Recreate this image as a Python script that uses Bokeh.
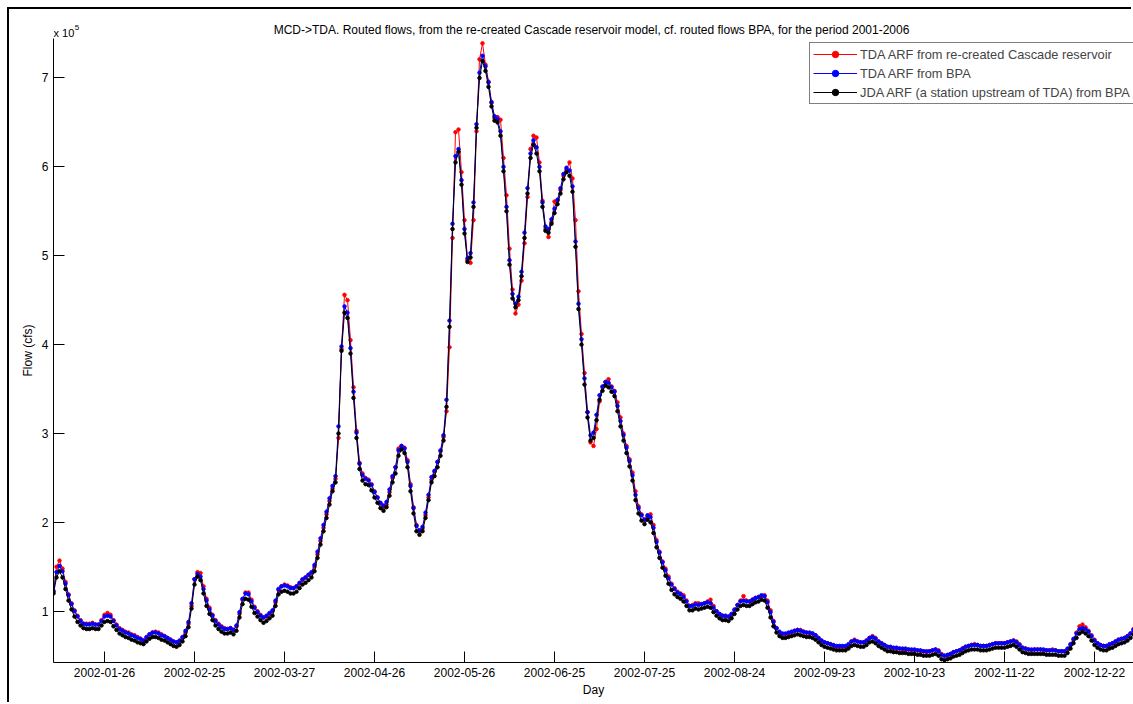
from datetime import date
from bokeh.plotting import figure
from bokeh.models import Range1d, FixedTicker, Legend, LegendItem, Label, Title
from bokeh.embed import file_html
from bokeh.resources import INLINE

# ---------------- data (flows in units of 1e5 cfs, daily from 2002-01-09) ----------------
start_date = date(2002, 1, 9)

tick_labels = ["2002-01-26", "2002-02-25", "2002-03-27", "2002-04-26", "2002-05-26",
               "2002-06-25", "2002-07-25", "2002-08-24", "2002-09-23", "2002-10-23",
               "2002-11-22", "2002-12-22"]
y_ticks = [1, 2, 3, 4, 5, 6, 7]
y_tick_labels = ["1", "2", "3", "4", "5", "6", "7"]

title_text = ("MCD->TDA. Routed flows, from the re-created Cascade reservoir model, "
              "cf. routed flows BPA, for the period 2001-2006")

series_names = ["TDA ARF from re-created Cascade reservoir",
                "TDA ARF from BPA",
                "JDA ARF (a station upstream of TDA) from BPA"]

tda_recreated = [
    1.23, 1.50, 1.57, 1.48, 1.33, 1.19, 1.09, 1.01, 0.95, 0.90,
    0.86, 0.86, 0.86, 0.87, 0.85, 0.85, 0.90, 0.96, 0.98, 0.96,
    0.90, 0.85, 0.81, 0.79, 0.77, 0.76, 0.74, 0.73, 0.71, 0.69,
    0.67, 0.70, 0.74, 0.76, 0.77, 0.76, 0.74, 0.72, 0.70, 0.68,
    0.66, 0.65, 0.66, 0.70, 0.76, 0.86, 1.06, 1.36, 1.44, 1.43,
    1.28, 1.14, 1.04, 0.96, 0.90, 0.86, 0.83, 0.81, 0.80, 0.81,
    0.79, 0.83, 0.97, 1.13, 1.21, 1.21, 1.13, 1.05, 1.00, 0.96,
    0.93, 0.94, 0.97, 1.00, 1.10, 1.24, 1.28, 1.30, 1.29, 1.27,
    1.26, 1.28, 1.31, 1.35, 1.38, 1.41,
    1.43, 1.50, 1.64, 1.79, 1.94, 2.09, 2.24, 2.38, 2.49, 2.95,
    3.95, 4.56, 4.50, 4.05, 3.52, 3.03, 2.67, 2.55, 2.50, 2.48,
    2.43, 2.35, 2.28, 2.21, 2.17, 2.20, 2.34, 2.50, 2.62, 2.83,
    2.86, 2.84, 2.70, 2.43, 2.17, 1.97, 1.90, 1.93, 2.08, 2.28,
    2.48, 2.57, 2.68, 2.80, 2.96, 3.25, 3.97, 5.20, 6.39, 6.42,
    5.94, 5.40, 4.95, 4.92, 5.40, 6.40, 7.21, 7.39, 7.15, 6.96,
    6.72, 6.55, 6.56, 6.53, 6.10, 5.68, 5.08, 4.62, 4.35, 4.45,
    4.72, 5.14, 5.66, 6.20, 6.35, 6.33, 6.05, 5.62, 5.30, 5.21,
    5.38, 5.61, 5.62, 5.74, 5.90, 5.97, 6.05, 5.87, 5.40, 4.60,
    4.12, 3.68, 3.24, 2.90, 2.86, 3.05, 3.36, 3.52, 3.58, 3.61,
    3.53, 3.48, 3.35, 3.18, 3.00, 2.86, 2.71, 2.56, 2.35, 2.18,
    2.09, 2.03, 2.06, 2.09, 1.97, 1.80, 1.67, 1.56, 1.48, 1.39,
    1.31, 1.26, 1.22, 1.20, 1.18, 1.12, 1.06, 1.07, 1.09, 1.09,
    1.08, 1.09, 1.11, 1.13, 1.06, 1.00, 0.97, 0.95, 0.94, 0.94,
    0.96, 1.01, 1.07, 1.12, 1.17, 1.12, 1.11, 1.13, 1.15, 1.16,
    1.17, 1.18, 1.12, 1.01, 0.89, 0.81, 0.76, 0.74, 0.74, 0.75,
    0.76, 0.78, 0.79, 0.79, 0.77, 0.76, 0.75, 0.75, 0.73, 0.70,
    0.67, 0.65, 0.64, 0.63, 0.61, 0.60, 0.60, 0.60, 0.60, 0.62,
    0.66, 0.68, 0.66, 0.65, 0.65, 0.67, 0.70, 0.72, 0.70, 0.66,
    0.64, 0.62, 0.60, 0.59, 0.58, 0.58, 0.58, 0.57, 0.57, 0.57,
    0.56, 0.56, 0.56, 0.55, 0.55, 0.54, 0.55, 0.56, 0.57, 0.56,
    0.52, 0.50, 0.50, 0.52, 0.54, 0.55, 0.56, 0.58, 0.60, 0.61,
    0.62, 0.63, 0.62, 0.61, 0.61, 0.61, 0.62, 0.63, 0.64, 0.64,
    0.64, 0.64, 0.65, 0.66, 0.67, 0.66, 0.63, 0.59, 0.58, 0.57,
    0.56, 0.57, 0.57, 0.57, 0.56, 0.56, 0.56, 0.57, 0.56, 0.55,
    0.55, 0.55, 0.57, 0.62, 0.68, 0.76, 0.83, 0.85, 0.82, 0.78,
    0.73, 0.68, 0.64, 0.62, 0.61, 0.61, 0.62, 0.64, 0.66, 0.68,
    0.69, 0.70, 0.72, 0.75, 0.80, 0.84,
]

tda_bpa = [
    1.22, 1.44, 1.51, 1.45, 1.31, 1.18, 1.08, 1.00, 0.94, 0.89,
    0.86, 0.85, 0.85, 0.86, 0.85, 0.85, 0.89, 0.94, 0.95, 0.94,
    0.89, 0.84, 0.80, 0.78, 0.76, 0.75, 0.73, 0.72, 0.70, 0.69,
    0.67, 0.71, 0.74, 0.76, 0.76, 0.75, 0.73, 0.72, 0.70, 0.68,
    0.66, 0.65, 0.67, 0.71, 0.78, 0.88, 1.09, 1.36, 1.42, 1.39,
    1.25, 1.12, 1.02, 0.95, 0.89, 0.85, 0.82, 0.80, 0.80, 0.81,
    0.79, 0.84, 0.99, 1.14, 1.20, 1.19, 1.11, 1.04, 0.99, 0.95,
    0.93, 0.95, 0.98, 1.01, 1.12, 1.25, 1.28, 1.29, 1.28, 1.26,
    1.26, 1.28, 1.32, 1.36, 1.38, 1.41,
    1.44, 1.52, 1.67, 1.82, 1.97, 2.12, 2.27, 2.41, 2.52, 3.08,
    3.98, 4.43, 4.36, 3.96, 3.47, 3.01, 2.66, 2.53, 2.49, 2.47,
    2.42, 2.34, 2.28, 2.22, 2.19, 2.23, 2.37, 2.52, 2.62, 2.81,
    2.86, 2.83, 2.68, 2.41, 2.16, 1.96, 1.91, 1.95, 2.11, 2.31,
    2.51, 2.58, 2.68, 2.81, 2.98, 3.38, 4.27, 5.36, 6.12, 6.20,
    5.85, 5.30, 4.97, 5.03, 5.60, 6.48, 7.06, 7.25, 7.13, 6.95,
    6.73, 6.57, 6.54, 6.40, 6.00, 5.55, 4.95, 4.57, 4.46, 4.54,
    4.82, 5.26, 5.76, 6.15, 6.30, 6.22, 6.00, 5.60, 5.33, 5.30,
    5.41, 5.53, 5.63, 5.76, 5.92, 5.99, 5.96, 5.78, 5.16, 4.46,
    4.06, 3.62, 3.24, 2.98, 3.01, 3.21, 3.43, 3.53, 3.58, 3.57,
    3.52, 3.47, 3.31, 3.14, 2.98, 2.84, 2.69, 2.53, 2.31, 2.16,
    2.08, 2.03, 2.08, 2.06, 1.94, 1.78, 1.66, 1.55, 1.46, 1.37,
    1.30, 1.25, 1.21, 1.19, 1.16, 1.11, 1.06, 1.06, 1.08, 1.07,
    1.08, 1.09, 1.10, 1.09, 1.04, 1.00, 0.97, 0.95, 0.95, 0.94,
    0.97, 1.02, 1.07, 1.11, 1.12, 1.11, 1.11, 1.13, 1.15, 1.16,
    1.18, 1.17, 1.10, 0.99, 0.88, 0.81, 0.77, 0.75, 0.75, 0.76,
    0.77, 0.78, 0.79, 0.78, 0.77, 0.76, 0.76, 0.75, 0.73, 0.70,
    0.67, 0.65, 0.64, 0.63, 0.62, 0.61, 0.61, 0.61, 0.61, 0.63,
    0.66, 0.67, 0.66, 0.65, 0.65, 0.67, 0.70, 0.71, 0.69, 0.66,
    0.64, 0.62, 0.60, 0.60, 0.59, 0.59, 0.58, 0.58, 0.58, 0.57,
    0.57, 0.57, 0.56, 0.56, 0.55, 0.55, 0.55, 0.56, 0.57, 0.55,
    0.51, 0.50, 0.51, 0.52, 0.54, 0.55, 0.56, 0.58, 0.60, 0.61,
    0.62, 0.62, 0.62, 0.61, 0.61, 0.61, 0.62, 0.63, 0.64, 0.64,
    0.64, 0.64, 0.65, 0.66, 0.67, 0.65, 0.62, 0.59, 0.58, 0.57,
    0.57, 0.57, 0.57, 0.57, 0.57, 0.56, 0.56, 0.56, 0.56, 0.55,
    0.55, 0.55, 0.58, 0.63, 0.69, 0.75, 0.80, 0.81, 0.80, 0.77,
    0.72, 0.67, 0.64, 0.62, 0.61, 0.61, 0.63, 0.64, 0.66, 0.68,
    0.69, 0.70, 0.72, 0.75, 0.79, 0.83,
]

jda_bpa = [
    1.20, 1.38, 1.45, 1.38, 1.25, 1.12, 1.02, 0.94, 0.88, 0.84,
    0.81, 0.80, 0.80, 0.81, 0.80, 0.80, 0.84, 0.88, 0.89, 0.88,
    0.83, 0.79, 0.75, 0.73, 0.71, 0.70, 0.68, 0.67, 0.65, 0.64,
    0.63, 0.66, 0.69, 0.71, 0.71, 0.70, 0.68, 0.67, 0.65, 0.63,
    0.61, 0.60, 0.62, 0.66, 0.72, 0.82, 1.03, 1.30, 1.39, 1.35,
    1.20, 1.06, 0.97, 0.90, 0.84, 0.80, 0.77, 0.75, 0.75, 0.76,
    0.74, 0.78, 0.93, 1.08, 1.14, 1.13, 1.05, 0.98, 0.94, 0.90,
    0.87, 0.89, 0.92, 0.95, 1.06, 1.19, 1.22, 1.23, 1.22, 1.20,
    1.20, 1.22, 1.26, 1.30, 1.32, 1.35,
    1.38, 1.45, 1.60, 1.75, 1.90, 2.05, 2.20, 2.35, 2.45, 3.00,
    3.93, 4.36, 4.30, 3.90, 3.40, 2.95, 2.60, 2.47, 2.43, 2.42,
    2.36, 2.28, 2.22, 2.16, 2.13, 2.17, 2.30, 2.45, 2.55, 2.75,
    2.82, 2.78, 2.62, 2.35, 2.10, 1.90, 1.86, 1.90, 2.05, 2.25,
    2.45, 2.52, 2.62, 2.75, 2.92, 3.30, 4.20, 5.30, 6.05, 6.17,
    5.80, 5.25, 4.93, 4.98, 5.55, 6.44, 7.00, 7.19, 7.08, 6.90,
    6.68, 6.52, 6.50, 6.35, 5.95, 5.50, 4.90, 4.52, 4.42, 4.50,
    4.77, 5.20, 5.70, 6.10, 6.25, 6.15, 5.95, 5.55, 5.28, 5.26,
    5.36, 5.48, 5.58, 5.70, 5.86, 5.94, 5.90, 5.72, 5.10, 4.40,
    4.00, 3.55, 3.18, 2.92, 2.95, 3.15, 3.38, 3.48, 3.54, 3.52,
    3.47, 3.42, 3.25, 3.08, 2.92, 2.78, 2.63, 2.47, 2.25, 2.10,
    2.02, 1.98, 2.03, 2.00, 1.88, 1.72, 1.60, 1.49, 1.40, 1.31,
    1.24, 1.19, 1.16, 1.14, 1.11, 1.06, 1.01, 1.01, 1.03, 1.02,
    1.03, 1.04, 1.05, 1.04, 0.99, 0.95, 0.92, 0.90, 0.90, 0.89,
    0.92, 0.97, 1.02, 1.06, 1.07, 1.06, 1.06, 1.08, 1.10, 1.11,
    1.13, 1.12, 1.04, 0.93, 0.83, 0.76, 0.72, 0.70, 0.70, 0.71,
    0.72, 0.73, 0.74, 0.73, 0.72, 0.71, 0.71, 0.70, 0.68, 0.65,
    0.62, 0.60, 0.59, 0.58, 0.57, 0.56, 0.56, 0.56, 0.56, 0.58,
    0.61, 0.62, 0.61, 0.60, 0.60, 0.62, 0.65, 0.66, 0.64, 0.61,
    0.59, 0.57, 0.55, 0.55, 0.54, 0.54, 0.53, 0.53, 0.53, 0.52,
    0.52, 0.52, 0.51, 0.51, 0.50, 0.50, 0.50, 0.51, 0.52, 0.50,
    0.46, 0.45, 0.46, 0.47, 0.49, 0.50, 0.51, 0.53, 0.55, 0.56,
    0.57, 0.57, 0.57, 0.56, 0.56, 0.56, 0.57, 0.58, 0.59, 0.59,
    0.59, 0.59, 0.60, 0.61, 0.62, 0.60, 0.57, 0.54, 0.53, 0.52,
    0.52, 0.52, 0.52, 0.52, 0.52, 0.51, 0.51, 0.51, 0.51, 0.50,
    0.50, 0.50, 0.53, 0.58, 0.64, 0.70, 0.75, 0.77, 0.75, 0.72,
    0.67, 0.62, 0.59, 0.57, 0.56, 0.56, 0.58, 0.59, 0.61, 0.63,
    0.64, 0.65, 0.67, 0.70, 0.74, 0.78,
]

series_values = [tda_recreated, tda_bpa, jda_bpa]
series_colors = ["#ff0000", "#0000ff", "#000000"]

# ---------------- figure ----------------
FONT = "Liberation Sans"
days = list(range(len(jda_bpa)))
tick_pos = [(date.fromisoformat(s) - start_date).days for s in tick_labels]

# canvas is offset by 9px (window frame drawn as a shadow on top/left)
p = figure(width=1124, height=695, output_backend="svg", toolbar_location=None, title=None,
           x_range=Range1d(0, 360.0), y_range=Range1d(0.4233, 7.7707),
           min_border_left=44, min_border_right=0, min_border_top=0, min_border_bottom=42,
           background_fill_color="white", border_fill_color="white")
p.styles = {"margin-left": "9px", "margin-top": "9px",
            "box-shadow": "-2px -2px 0px 0px #000000"}

p.outline_line_color = None
p.xgrid.visible = False
p.ygrid.visible = False

for ax in (p.xaxis[0], p.yaxis[0]):
    ax.axis_line_color = "black"
    ax.major_tick_line_color = "black"
    ax.major_tick_in = 11
    ax.major_tick_out = 0
    ax.minor_tick_line_color = None
    ax.major_label_text_font = FONT
    ax.major_label_text_font_size = "12px"
    ax.major_label_text_color = "black"
    ax.axis_label_text_font = FONT
    ax.axis_label_text_font_size = "12px"
    ax.axis_label_text_font_style = "normal"
    ax.axis_label_text_color = "black"

p.xaxis.ticker = FixedTicker(ticks=tick_pos)
p.xaxis.major_label_overrides = {t: s for t, s in zip(tick_pos, tick_labels)}
p.xaxis.major_label_standoff = 5
p.xaxis.axis_label = "Day"
p.xaxis.axis_label_standoff = 3

p.yaxis.ticker = FixedTicker(ticks=y_ticks)
p.yaxis.major_label_overrides = {t: s for t, s in zip(y_ticks, y_tick_labels)}
p.yaxis.major_label_standoff = 5
p.yaxis.bounds = (0.4233, 7.4447)

# y axis label, placed along the axis' own extent
ylab = Title(text="Flow (cfs)", align="left", offset=286, standoff=8,
             text_font=FONT, text_font_size="12px", text_font_style="normal",
             text_color="black")
p.add_layout(ylab, "left")

items = []
for name, vals, col in zip(series_names, series_values, series_colors):
    lr = p.line(days, vals, line_color=col, line_width=1)
    sr = p.scatter(days, vals, marker="circle", size=3.5, fill_color=col, line_color=col)
    items.append(LegendItem(label=name, renderers=[lr, sr]))

legend = Legend(items=items, location=(756, 558), orientation="vertical",
                border_line_color="black", border_line_width=1,
                background_fill_color="white", background_fill_alpha=1.0,
                label_text_font=FONT, label_text_font_size="12.8px",
                glyph_width=44, glyph_height=16, label_height=16,
                spacing=3, padding=3, margin=0, label_standoff=3)
p.add_layout(legend)

# title and y exponent drawn inside the (extended) frame
p.add_layout(Label(x=538, y=632.5, x_units="screen", y_units="screen", text=title_text,
                   text_align="center", text_baseline="alphabetic",
                   text_font=FONT, text_font_size="12px", text_color="black"))
p.add_layout(Label(x=0, y=629.7, x_units="screen", y_units="screen", text="x 10",
                   text_baseline="alphabetic",
                   text_font=FONT, text_font_size="11px", text_color="black"))
p.add_layout(Label(x=21.3, y=635.5, x_units="screen", y_units="screen", text="5",
                   text_baseline="alphabetic",
                   text_font=FONT, text_font_size="8px", text_color="black"))

open("out.html", "w").write(file_html(p, INLINE))
